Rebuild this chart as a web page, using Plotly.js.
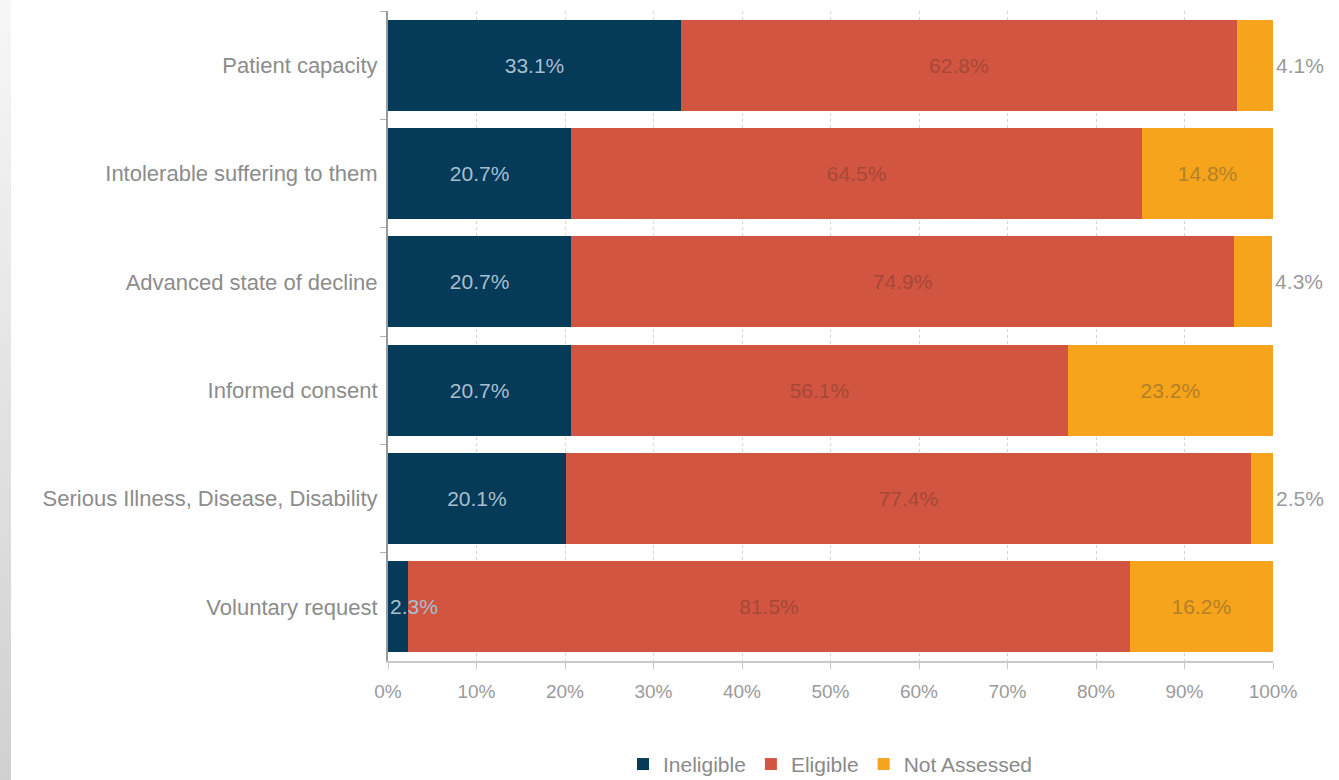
<!DOCTYPE html>
<html>
<head>
<meta charset="utf-8">
<script src="https://cdn.plot.ly/plotly-3.0.1.min.js"></script>
<style>
  html, body { margin: 0; padding: 0; background: #ffffff; }
  #chart { width: 1339px; height: 780px; }
  #strip { position: absolute; left: 0; top: 0; width: 11px; height: 780px;
           background: linear-gradient(to bottom, #f7f7f7, #d0d0d0); z-index: 5; }
</style>
</head>
<body>
<div id="strip"></div>
<div id="chart"></div>
<script>
const categories = [
  "Patient capacity",
  "Intolerable suffering to them",
  "Advanced state of decline",
  "Informed consent",
  "Serious Illness, Disease, Disability",
  "Voluntary request"
];
const ineligible   = [33.1, 20.7, 20.7, 20.7, 20.1, 2.3];
const eligible     = [62.8, 64.5, 74.9, 56.1, 77.4, 81.5];
const notAssessed  = [4.1, 14.8, 4.3, 23.2, 2.5, 16.2];
const seriesNames  = ["Ineligible", "Eligible", "Not Assessed"];
const xTickVals    = [0, 10, 20, 30, 40, 50, 60, 70, 80, 90, 100];
const xTickText    = ["0%", "10%", "20%", "30%", "40%", "50%", "60%", "70%", "80%", "90%", "100%"];

const FONT = "Liberation Sans, Arial, sans-serif";
const fmt = v => v.toFixed(1) + "%";

const smallIneligible = ineligible.map(v => v < 5);
const smallNotAssessed = notAssessed.map(v => v < 5);

const traces = [
  {
    type: "bar", orientation: "h", name: seriesNames[0],
    y: categories, x: ineligible,
    marker: { color: "#053a58" },
    text: ineligible.map((v, i) => smallIneligible[i] ? "" : fmt(v)),
    textposition: "inside", insidetextanchor: "middle",
    textfont: { family: FONT, size: 21, color: "#a8bfd0" },
    hoverinfo: "x+name"
  },
  {
    type: "bar", orientation: "h", name: seriesNames[1],
    y: categories, x: eligible,
    marker: { color: "#d25541" },
    text: eligible.map(fmt),
    textposition: "inside", insidetextanchor: "middle",
    textfont: { family: FONT, size: 21, color: "#a64838" },
    hoverinfo: "x+name"
  },
  {
    type: "bar", orientation: "h", name: seriesNames[2],
    y: categories, x: notAssessed,
    marker: { color: "#f5a41b" },
    text: notAssessed.map(fmt),
    textposition: notAssessed.map((v, i) => smallNotAssessed[i] ? "outside" : "inside"),
    insidetextanchor: "middle",
    insidetextfont: { family: FONT, size: 21, color: "#b48028" },
    outsidetextfont: { family: FONT, size: 21, color: "#9a9a9a" },
    textfont: { family: FONT, size: 21, color: "#9a9a9a" },
    cliponaxis: false,
    hoverinfo: "x+name"
  }
];

const annotations = [];
ineligible.forEach((v, i) => {
  if (smallIneligible[i]) {
    annotations.push({
      x: 0, y: categories[i], xref: "x", yref: "y",
      text: fmt(v), showarrow: false, xanchor: "left", xshift: 0,
      font: { family: FONT, size: 21, color: "#a8bfd0" }
    });
  }
});

const layout = {
  width: 1339, height: 780,
  margin: { l: 388, r: 66, t: 11, b: 119, autoexpand: false },
  paper_bgcolor: "#ffffff", plot_bgcolor: "#ffffff",
  barmode: "stack",
  bargap: 0.16,
  showlegend: true,
  legend: {
    orientation: "h", x: 0.5, xanchor: "center",
    yref: "container", y: 0.02, yanchor: "middle",
    font: { family: FONT, size: 21, color: "#8a8a8a" },
    itemwidth: 30, traceorder: "normal"
  },
  xaxis: {
    range: [0, 100],
    tickvals: xTickVals, ticktext: xTickText,
    tickfont: { family: FONT, size: 19, color: "#9a9a9a" },
    showgrid: true, gridcolor: "#d4d4d4", griddash: "dot", gridwidth: 1,
    zeroline: false,
    showline: true, linecolor: "#c8c8c8", linewidth: 2,
    ticks: "outside", ticklen: 6, tickcolor: "#c8c8c8",
    ticklabelstandoff: 6,
    fixedrange: true
  },
  yaxis: {
    type: "category",
    autorange: "reversed",
    tickfont: { family: FONT, size: 22, color: "#8c8c8c" },
    showgrid: false, zeroline: false,
    showline: true, linecolor: "#9a9a9a", linewidth: 2,
    ticks: "outside", tickson: "boundaries", ticklen: 6, tickcolor: "#b0b0b0",
    ticklabelstandoff: 4,
    fixedrange: true
  },
  annotations: annotations
};

Plotly.newPlot("chart", traces, layout, { displayModeBar: false, staticPlot: true });
</script>
</body>
</html>
